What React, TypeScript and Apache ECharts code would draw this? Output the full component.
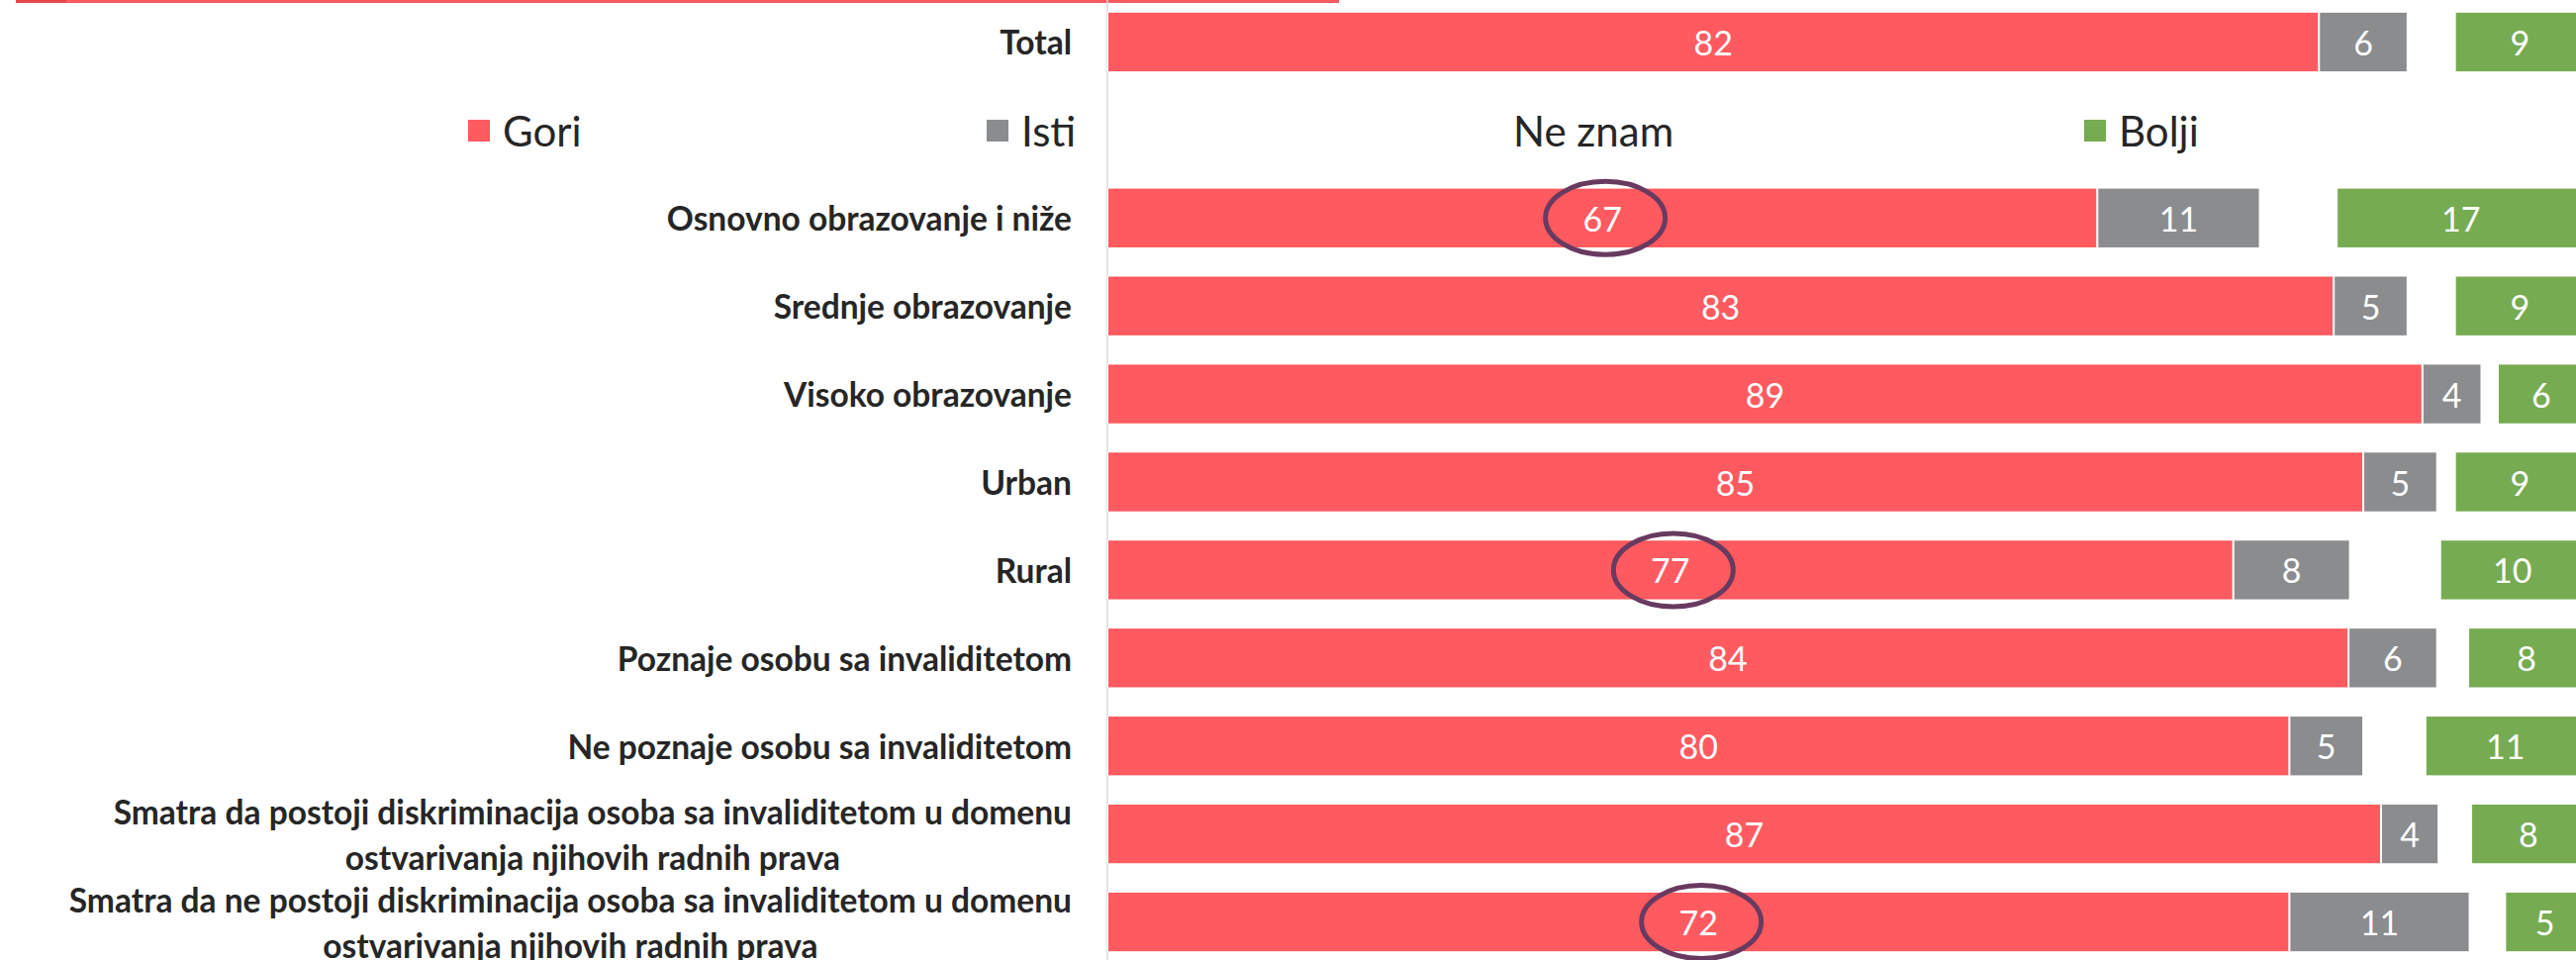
import React, { useEffect, useRef } from "react";
import * as echarts from "echarts";

const categories = [
  "Total",
  "",
  "Osnovno obrazovanje i niže",
  "Srednje obrazovanje",
  "Visoko obrazovanje",
  "Urban",
  "Rural",
  "Poznaje osobu sa invaliditetom",
  "Ne poznaje osobu sa invaliditetom",
  "Smatra da postoji diskriminacija osoba sa invaliditetom u domenu\nostvarivanja njihovih radnih prava",
  "Smatra da ne postoji diskriminacija osoba sa invaliditetom u domenu\nostvarivanja njihovih radnih prava",
];

// bar lengths as drawn in the reference
const goriValues = [82, null, 67, 83, 89, 85, 76.2, 84, 80, 86.2, 80];
const istiValues = [6, null, 11, 5, 4, 5, 7.9, 6, 5, 3.9, 12.2];
const neZnamValues = [3.2, null, 5.2, 3.2, 1.1, 1.2, 6.1, 2.1, 4.2, 2.2, 2.4];
const boljiValues = [8.8, null, 16.85, 8.8, 5.9, 8.8, 9.8, 7.9, 10.9, 7.8, 5.4];

// labels as printed in the reference
const goriLabels = ["82", "", "67", "83", "89", "85", "77", "84", "80", "87", "72"];
const istiLabels = ["6", "", "11", "5", "4", "5", "8", "6", "5", "4", "11"];
const boljiLabels = ["9", "", "17", "9", "6", "9", "10", "8", "11", "8", "5"];

const seriesNames = ["Gori", "Isti", "Ne znam", "Bolji"];
const circledRows = [2, 6, 10];

const RED = "#FF5A5F";
const GRAY = "#8A8C8E";
const GREEN = "#76AB51";
const FONT = "Lato, 'Noto Sans', sans-serif";

export default function App() {
  const ref = useRef<HTMLDivElement>(null);

  useEffect(() => {
    if (!ref.current) return;
    const chart = echarts.init(ref.current, undefined, { renderer: "svg" });

    const labelStyle = (labels: string[] | null) => ({
      show: labels !== null,
      position: "inside",
      color: "#ffffff",
      fontFamily: FONT,
      fontSize: 34,
      formatter: (p: any) => (labels ? labels[p.dataIndex] : ""),
    });

    const mkSeries = (name: string, data: any[], color: string, labels: string[] | null) => ({
      name,
      type: "bar",
      stack: "total",
      data,
      barWidth: "69%",
      itemStyle: { color, borderColor: "#ffffff", borderWidth: color === "#ffffff" ? 0 : 1 },
      label: labelStyle(labels),
      emphasis: { disabled: true },
      silent: true,
    });

    const legendBase = (name: string, left: number) => ({
      data: [name],
      left,
      top: 109,
      padding: 0,
      icon: "rect",
      itemWidth: 24,
      itemHeight: 24,
      selectedMode: false,
      textStyle: {
        fontFamily: FONT,
        fontSize: 42,
        lineHeight: 50,
        color: "#262626",
        padding: [0, 0, 0, 7],
      },
    });

    chart.setOption({
      animation: false,
      grid: { left: 1119, right: 0, top: 0, bottom: 0, containLabel: false },
      legend: [
        legendBase("Gori", 471),
        legendBase("Isti", 995),
        legendBase("Ne znam", 1493),
        legendBase("Bolji", 2104),
      ],
      xAxis: {
        type: "value",
        min: 0,
        max: 100,
        show: false,
        splitLine: { show: false },
      },
      yAxis: {
        type: "category",
        inverse: true,
        data: categories,
        axisTick: { show: false },
        axisLine: { show: true, lineStyle: { color: "#D9D9D9", width: 1.5 } },
        axisLabel: {
          interval: 0,
          margin: 36,
          align: "right",
          formatter: (v: string) =>
            v
              .split("\n")
              .map((l) => `{c|${l}}`)
              .join("\n"),
          rich: {
            c: {
              align: "center",
              fontFamily: FONT,
              fontWeight: "bold",
              fontSize: 33.5,
              lineHeight: 46,
              color: "#262626",
            },
          },
        },
      },
      series: [
        mkSeries(seriesNames[0], goriValues, RED, goriLabels),
        mkSeries(seriesNames[1], istiValues, GRAY, istiLabels),
        mkSeries(seriesNames[2], neZnamValues, "#ffffff", null),
        mkSeries(seriesNames[3], boljiValues, GREEN, boljiLabels),
      ],
    });

    const ellipses = circledRows.map((row) => {
      const v = goriValues[row] as number;
      const [cx, cy] = chart.convertToPixel({ xAxisIndex: 0, yAxisIndex: 0 }, [v / 2, row]) as number[];
      return {
        type: "ellipse",
        shape: { cx: cx + 3, cy, rx: 60.5, ry: 37 },
        style: { fill: "none", stroke: "#683A60", lineWidth: 5 },
        silent: true,
        z: 100,
      };
    });

    chart.setOption({
      graphic: [
        { type: "rect", shape: { x: 67, y: 2, width: 1286, height: 3 }, style: { fill: RED }, silent: true },
        { type: "rect", shape: { x: 16, y: 2, width: 51, height: 3 }, style: { fill: "#E8474C" }, silent: true },
        ...ellipses,
      ],
    });

    return () => chart.dispose();
  }, []);

  return (
    <div style={{ position: "fixed", left: 0, top: 0, width: 2603, height: 970, overflow: "hidden", background: "#fff" }}>
      <div ref={ref} style={{ position: "absolute", left: 0, top: -2, width: 2612, height: 978 }} />
    </div>
  );
}
